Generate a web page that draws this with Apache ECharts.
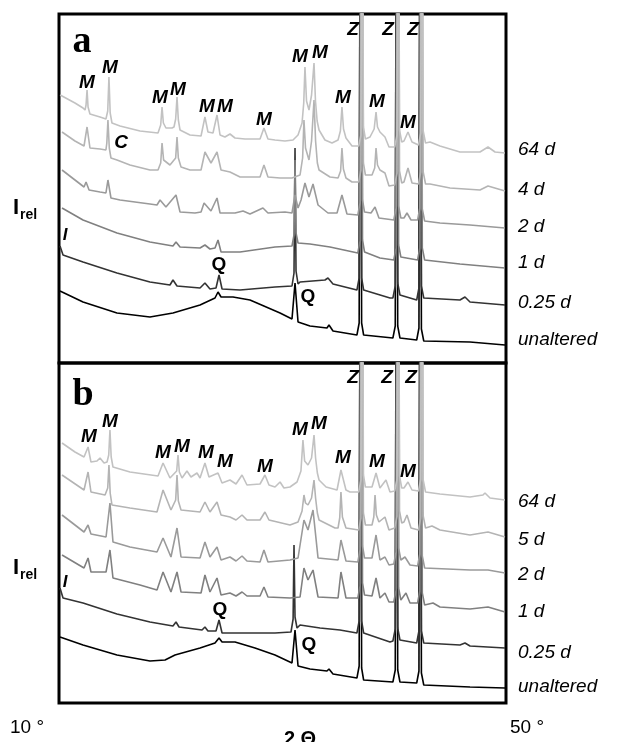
<!DOCTYPE html>
<html>
<head>
<meta charset="utf-8">
<script src="https://cdn.jsdelivr.net/npm/echarts@6/dist/echarts.min.js"></script>
<style>
  html, body { margin: 0; padding: 0; background: #fff; }
  #chart { width: 627px; height: 742px; }
</style>
</head>
<body>
<div id="chart"></div>
<script>
// 2 theta range and tick labels
var xMin = 10, xMax = 50;
var xTickLabels = ['10 °', '50 °'];
var xTitle = '2 Θ';

// trace names, top to bottom
var namesA = ['64 d', '4 d', '2 d', '1 d', '0.25 d', 'unaltered'];
var namesB = ['64 d', '5 d', '2 d', '1 d', '0.25 d', 'unaltered'];
var traceColors = ['#c2c2c2', '#b4b4b4', '#9a9a9a', '#808080', '#333333', '#000000'];

// panel a, [2theta, stacked intensity]
var a64d = [[10.1,268],[11.43,260],[12.15,255],[12.33,253],[12.42,258],[12.51,273],[12.6,256],[12.77,249],[13.67,246],[14.2,244],
  [14.36,252],[14.47,286],[14.58,250],[14.74,240],
  [15.46,237],[17.25,232],[18.86,230],[19.1,238],[19.22,256],[19.34,240],[19.57,235],[20.11,235],[20.29,236],[20.44,244],
  [20.56,266],[20.68,243],[20.83,233],[21.72,228],
  [22.71,227],[23.06,246],[23.33,231],[23.78,230],[24.14,248],[24.41,228],[24.85,226],[25.3,229],[25.75,225],[26.64,224],
  [27.99,224],[28.34,235],[28.7,224],[29.33,223],[30.22,222],[30.94,223],
  [31.39,228],[31.75,240],[31.9,260],[32.01,296],[32.15,262],[32.37,253],[32.6,268],[32.82,300],[32.95,262],[33.1,242],
  [33.27,233],[33.8,223],[34.43,220],[34.97,223],[35.18,232],[35.32,256],[35.46,234],[35.68,225],[36.22,217],
  [36.82,217],[37.02,228],[37.13,600],[37.24,236],[37.42,224],
  [37.83,226],[38.2,234],[38.37,251],[38.5,236],[38.72,231],[39.17,226],[39.53,216],
  [40.04,216],[40.25,228],[40.36,600],[40.47,233],[40.67,221],
  [40.87,222],[41.23,231],[41.59,221],
  [42.17,218],[42.37,230],[42.48,600],[42.59,232],[42.8,220],
  [43.2,221],[44.09,217],[45.88,211],[47.67,211],[48.39,216],[49.02,211],[49.91,210]];
var a4d = [[10.27,231],[11.43,222],[12.24,217],[12.51,236],[12.77,215],[13.67,214],[14.2,213],[14.28,220],[14.38,243],[14.5,215],
  [14.65,205],[15.19,203],
  [16.35,198],[18.14,193],[18.86,193],[19.1,200],[19.22,220],[19.36,203],[19.93,198],[20.44,205],[20.56,226],[20.68,205],
  [20.92,196],[21.72,193],[22.71,193],[23.06,211],
  [23.6,200],[24.14,211],[24.5,193],[25.3,191],[26.2,186],[27.99,186],[28.34,198],[28.7,186],[29.78,185],[30.85,185],
  [31.57,188],[31.8,205],[31.92,243],[32.06,215],[32.37,203],[32.6,222],[32.82,263],[32.96,222],[33.12,200],[33.27,193],
  [34.25,186],[34.97,185],[35.2,192],[35.32,215],[35.45,194],[35.68,185],[36.22,181],
  [36.82,181],[37.02,193],[37.13,600],[37.24,200],[37.42,188],
  [38.01,188],[38.25,195],[38.37,215],[38.5,198],[38.72,193],[39.17,190],[39.53,177],
  [40.04,178],[40.25,190],[40.36,600],[40.47,192],[40.67,180],
  [40.87,181],[41.23,195],[41.59,180],
  [42.17,179],[42.37,191],[42.48,600],[42.59,191],[42.8,179],
  [43.2,179],[44.99,175],[47.67,173],[48.39,177],[49.91,172]];
var a2d = [[10.27,193],[11.43,183],[12.24,176],[12.42,181],[12.69,173],[13.67,171],[14.2,170],[14.38,183],[14.65,165],[15.46,163],
  [18.14,159],[18.77,158],[19.04,163],[19.57,156],[20.47,168],[20.83,151],[22.17,150],[22.71,151],[22.98,160],[23.6,152],
  [24.14,165],[24.41,150],[25.75,150],[26.47,152],[27.09,149],[28.25,155],[28.7,150],[30.22,151],[30.85,150],[31.12,168],
  [31.39,155],[31.66,163],[32.01,180],[32.37,166],[32.73,179],[33.18,158],[34.07,150],[34.88,150],[35.32,168],[35.77,149],
  [36.74,148],[36.94,160],[37.05,600],[37.16,163],[37.34,151],
  [37.92,150],[38.28,156],[38.63,145],
  [39.96,143],[40.17,155],[40.28,600],[40.39,157],[40.59,145],
  [40.87,145],[41.14,150],[41.5,143],
  [42.09,143],[42.29,155],[42.4,600],[42.51,154],[42.72,142],
  [44.09,140],[46.78,138],[49.91,135]];
var a1d = [[10.27,155],[12.15,143],[15.19,130],[18.14,121],[20.2,117],[20.47,121],[20.83,116],[22.62,115],[23.06,118],[23.51,114],
  [23.96,115],[24.23,123],[24.5,111],[26.2,111],[29.33,116],
  [30.85,117],[31.03,128],[31.12,203],[31.21,130],[31.39,120],
  [32.46,119],[34.25,116],
  [36.74,110],[36.94,122],[37.05,600],[37.16,123],[37.34,111],
  [38.72,105],
  [39.96,103],[40.17,115],[40.28,600],[40.39,118],[40.59,106],
  [42.09,103],[42.29,115],[42.4,600],[42.51,115],[42.72,103],
  [45.88,99],[49.91,95]];
var a025d = [[10.09,117],[10.36,108],[12.15,101],[15.19,90],[18.14,81],[19.93,78],[20.2,83],[20.56,77],[22.62,75],[23.06,80],
  [23.51,74],[24.05,75],[24.32,88],[24.59,74],[26.2,73],[29.33,76],
  [30.85,77],[31.03,90],[31.12,215],[31.21,92],[31.39,79],
  [31.57,81],[33.8,83],[34.07,85],[34.52,79],
  [36.66,73],[36.86,85],[36.97,600],[37.08,85],[37.26,73],
  [39.62,65],
  [39.88,65],[40.09,77],[40.2,600],[40.31,80],[40.51,68],
  [42.01,63],[42.21,75],[42.32,600],[42.43,77],[42.64,65],
  [45.88,63],[46.33,66],[46.78,61],[49.91,58]];
var aUnaltered = [[10.09,72],[12.15,61],[15.19,50],[18.14,46],[20.2,50],[22.62,58],[23.96,65],[24.23,71],[24.5,66],[25.57,66],
  [27.09,63],[29.78,50],[30.85,44],[31.12,80],[31.39,41],[32.46,37],[33.98,35],[34.16,38],[34.52,32],
  [36.66,28],[36.86,40],[36.97,600],[37.08,40],[37.26,28],
  [39.88,25],[40.09,37],[40.2,600],[40.31,37],[40.51,25],
  [42.01,23],[42.21,35],[42.32,600],[42.43,34],[42.64,22],
  [46.78,21],[49.91,18]];

// panel b
var b64d = [[10.27,260],[11.43,251],[12.24,246],[12.6,256],[12.86,241],[13.4,242],[13.67,245],[14.03,240],[14.3,241],[14.45,248],
  [14.56,273],[14.67,246],
  [14.83,236],[16.35,231],[18.86,227],[19.31,240],[19.93,225],[20.53,232],[20.65,248],[20.77,231],[21.01,225],[21.45,232],
  [21.81,226],[22.35,230],
  [22.62,225],[23.06,240],[23.42,226],[24.23,230],[24.59,220],[25.3,223],[25.84,219],[26.38,228],[26.82,218],[27.99,219],
  [28.43,228],[28.79,218],[29.33,216],[29.78,221],[30.13,215],[30.67,216],
  [31.3,221],[31.65,232],[31.83,263],[31.98,242],[32.28,238],[32.6,245],[32.82,268],[32.96,245],[33.12,230],
  [33.27,223],[33.9,216],[34.88,213],[35.23,233],[35.68,213],[36.04,211],
  [36.82,211],[37.02,223],[37.13,600],[37.24,228],[37.42,216],
  [38.01,216],[38.37,230],[38.72,215],[39.26,223],[39.62,211],
  [40.04,212],[40.25,224],[40.36,600],[40.47,227],[40.67,215],
  [40.87,215],[41.23,221],[41.59,213],
  [42.17,212],[42.37,224],[42.48,600],[42.59,223],[42.8,211],
  [44.09,209],[46.78,206],[47.94,208],[48.12,210],[48.57,205],[49.91,203]];
var b5d = [[10.27,228],[12.24,213],[12.6,231],[12.86,211],[14.12,208],[14.36,215],[14.47,238],[14.58,210],[14.74,198],[16.35,195],
  [18.77,191],[19.31,213],
  [20.02,193],[20.44,203],[20.56,228],[20.68,202],[20.92,193],[22.62,191],[23.06,201],[23.51,191],[24.14,201],[24.5,188],
  [25.3,186],[25.84,183],
  [26.38,188],[26.82,183],[27.99,183],[28.43,191],[28.79,183],[30.67,178],
  [31.39,181],[31.75,192],[31.92,208],[32.06,200],[32.28,198],[32.6,205],[32.82,223],[32.96,205],[33.12,190],
  [33.27,183],[34.7,175],[34.97,175],[35.12,185],[35.23,211],[35.36,186],[35.68,175],
  [36.82,173],[37.02,185],[37.13,600],[37.24,190],[37.42,178],
  [38.01,178],[38.17,186],[38.28,208],[38.4,188],[38.63,181],[39.17,186],[39.53,173],
  [40.04,175],[40.25,187],[40.36,600],[40.47,192],[40.67,180],
  [40.87,181],[41.14,188],[41.5,175],
  [42.17,173],[42.37,185],[42.48,600],[42.59,187],[42.8,175],
  [43.38,177],[44.09,173],[46.78,168],[48.39,171],[49.91,166]];
var b2d = [[10.27,188],[12.24,171],[12.6,178],[12.86,169],[14.21,166],[14.56,200],[14.83,161],[16.35,156],[18.77,151],[19.31,165],
  [20.02,146],[20.56,175],[20.92,146],[22.62,145],[23.06,161],[23.51,146],[24.14,156],[24.5,143],[25.3,146],[25.84,142],
  [26.38,147],[26.82,142],[27.99,141],[28.34,153],[28.7,141],[30.67,143],[31.39,145],[31.92,183],[32.28,173],[32.73,193],
  [33.18,145],[34.97,143],[35.23,163],[35.68,142],
  [36.74,141],[36.94,153],[37.05,600],[37.16,157],[37.34,145],
  [38.01,145],[38.37,168],[38.72,143],[39.17,146],[39.53,138],
  [39.96,139],[40.17,151],[40.28,600],[40.39,155],[40.59,143],
  [40.96,146],[41.41,138],
  [42.09,137],[42.29,149],[42.4,600],[42.51,147],[42.72,135],
  [46.78,133],[48.39,133],[49.91,130]];
var b1d = [[10.27,148],[12.24,135],[12.6,145],[12.86,131],[14.21,131],[14.56,153],[14.83,125],[17.25,118],[18.77,113],[19.31,131],
  [20.02,111],[20.56,131],[20.92,111],[22.71,110],[23.06,128],[23.51,111],[24.14,125],[24.5,108],[25.3,110],[25.84,107],
  [26.38,111],[26.82,107],[27.99,107],[28.34,116],[28.7,106],[30.67,105],[31.57,106],[31.92,135],[32.28,123],[32.73,133],
  [33.18,106],[34.97,105],[35.23,131],[35.68,105],
  [36.74,105],[36.94,117],[37.05,600],[37.16,120],[37.34,108],
  [38.01,107],[38.37,125],[38.72,105],[39.17,110],[39.53,101],
  [39.96,101],[40.17,113],[40.28,600],[40.39,115],[40.59,103],
  [41.05,110],[41.41,100],
  [42.09,100],[42.29,112],[42.4,600],[42.51,110],[42.72,98],
  [43.47,100],[44.09,96],[46.78,94],[48.39,96],[49.91,91]];
var b025d = [[10.09,115],[10.36,105],[12.15,100],[15.19,89],[18.14,81],[20.2,77],[20.47,81],[20.74,76],[22.8,73],[23.06,76],
  [23.33,72],[24.05,72],[24.32,83],[24.59,70],[26.2,70],[29.33,70],
  [30.76,71],[30.95,84],[31.03,158],[31.12,86],[31.3,75],
  [31.57,78],[33.36,75],[35.14,73],
  [36.66,70],[36.86,82],[36.97,600],[37.08,82],[37.26,70],
  [39.62,61],
  [39.88,62],[40.09,74],[40.2,600],[40.31,75],[40.51,63],
  [42.01,60],[42.21,72],[42.32,600],[42.43,72],[42.64,60],
  [45.88,58],[46.33,60],[46.78,57],[49.91,55]];
var bUnaltered = [[10.09,66],[12.15,58],[15.19,48],[18.14,42],[19.49,43],[20.38,48],[22.62,55],[23.96,60],[24.32,65],[24.59,61],
  [25.75,61],[27.54,55],[29.33,48],[30.85,40],[31.12,73],[31.39,37],[32.46,34],[33.98,32],[34.16,34],[34.52,29],
  [36.66,25],[36.86,37],[36.97,600],[37.08,35],[37.26,23],
  [39.88,21],[40.09,33],[40.2,600],[40.31,33],[40.51,21],
  [42.01,20],[42.21,32],[42.32,600],[42.43,30],[42.64,18],
  [46.78,16],[49.91,15]];

var tracesA = [a64d, a4d, a2d, a1d, a025d, aUnaltered];
var tracesB = [b64d, b5d, b2d, b1d, b025d, bUnaltered];

// peak labels: [text, x px, y px]
var peakLabelsA = [['M',87,83],['M',110,68],['M',160,98],['M',178,90],['M',207,107],['M',225,107],['M',264,120],
  ['M',300,57],['M',320,53],['M',343,98],['M',377,102],['M',408,123],['Z',353,30],['Z',388,30],['Z',413,30],['C',121,143]];
var peakLabelsB = [['M',89,437],['M',110,422],['M',163,453],['M',182,447],['M',206,453],['M',225,462],['M',265,467],
  ['M',300,430],['M',319,424],['M',343,458],['M',377,462],['M',408,472],['Z',353,378],['Z',387,378],['Z',411,378]];
var plainLabels = [['Q',219,265],['Q',308,297],['Q',220,610],['Q',309,645]];
var iLabels = [['I',65,235],['I',65,582]];
var nameYA = [150, 190, 227, 263, 303, 340];
var nameYB = [502, 540, 575, 612, 653, 687];

var chart = echarts.init(document.getElementById('chart'));

// lighter traces drawn over darker ones
var series = [];
tracesA.forEach(function (d, i) {
  series.push({ type: 'line', xAxisIndex: 0, yAxisIndex: 0, data: d, showSymbol: false, clip: true,
    lineStyle: { color: traceColors[i], width: 1.6 }, z: 10 - i });
});
tracesB.forEach(function (d, i) {
  series.push({ type: 'line', xAxisIndex: 1, yAxisIndex: 1, data: d, showSymbol: false, clip: true,
    lineStyle: { color: traceColors[i], width: 1.6 }, z: 10 - i });
});

var graphic = [];
function txt(text, x, y, font, extra) {
  var st = { text: text, x: x, y: y, font: font, fill: '#000', textAlign: 'center', textVerticalAlign: 'middle' };
  if (extra) for (var k in extra) st[k] = extra[k];
  graphic.push({ type: 'text', z: 100, style: st });
}
peakLabelsA.concat(peakLabelsB).forEach(function (l) {
  txt(l[0], l[1], l[2], 'italic bold 19px "Liberation Sans", Arial, sans-serif');
});
plainLabels.forEach(function (l) { txt(l[0], l[1], l[2], 'bold 19px "Liberation Sans", Arial, sans-serif'); });
iLabels.forEach(function (l) { txt(l[0], l[1], l[2], 'italic bold 17px "Liberation Sans", Arial, sans-serif'); });
txt('a', 82, 42, 'bold 38px "Liberation Serif", "Times New Roman", serif');
txt('b', 83, 395, 'bold 38px "Liberation Serif", "Times New Roman", serif');
namesA.forEach(function (n, i) {
  txt(n, 518, nameYA[i], 'italic 19px "Liberation Sans", Arial, sans-serif', { textAlign: 'left' });
});
namesB.forEach(function (n, i) {
  txt(n, 518, nameYB[i], 'italic 19px "Liberation Sans", Arial, sans-serif', { textAlign: 'left' });
});
[208, 568].forEach(function (y) {
  txt('I', 13, y, 'bold 22px "Liberation Sans", Arial, sans-serif', { textAlign: 'left' });
  txt('rel', 20, y + 7, 'bold 14px "Liberation Sans", Arial, sans-serif', { textAlign: 'left' });
});
txt(xTickLabels[0], 10, 728, '19px "Liberation Sans", Arial, sans-serif', { textAlign: 'left' });
txt(xTickLabels[1], 510, 728, '19px "Liberation Sans", Arial, sans-serif', { textAlign: 'left' });
txt(xTitle, 300, 739, 'bold 20px "Liberation Sans", Arial, sans-serif');

function xAx(gi) {
  return { type: 'value', gridIndex: gi, min: xMin, max: xMax, show: false };
}
function yAx(gi, max) {
  return { type: 'value', gridIndex: gi, min: 0, max: max, show: false };
}

chart.setOption({
  animation: false,
  backgroundColor: '#fff',
  grid: [
    { left: 59, top: 14, width: 447, height: 349, show: true, borderColor: '#000', borderWidth: 3 },
    { left: 59, top: 363, width: 447, height: 340, show: true, borderColor: '#000', borderWidth: 3 }
  ],
  xAxis: [xAx(0), xAx(1)],
  yAxis: [yAx(0, 349), yAx(1, 340)],
  series: series,
  graphic: graphic
});
</script>
</body>
</html>
